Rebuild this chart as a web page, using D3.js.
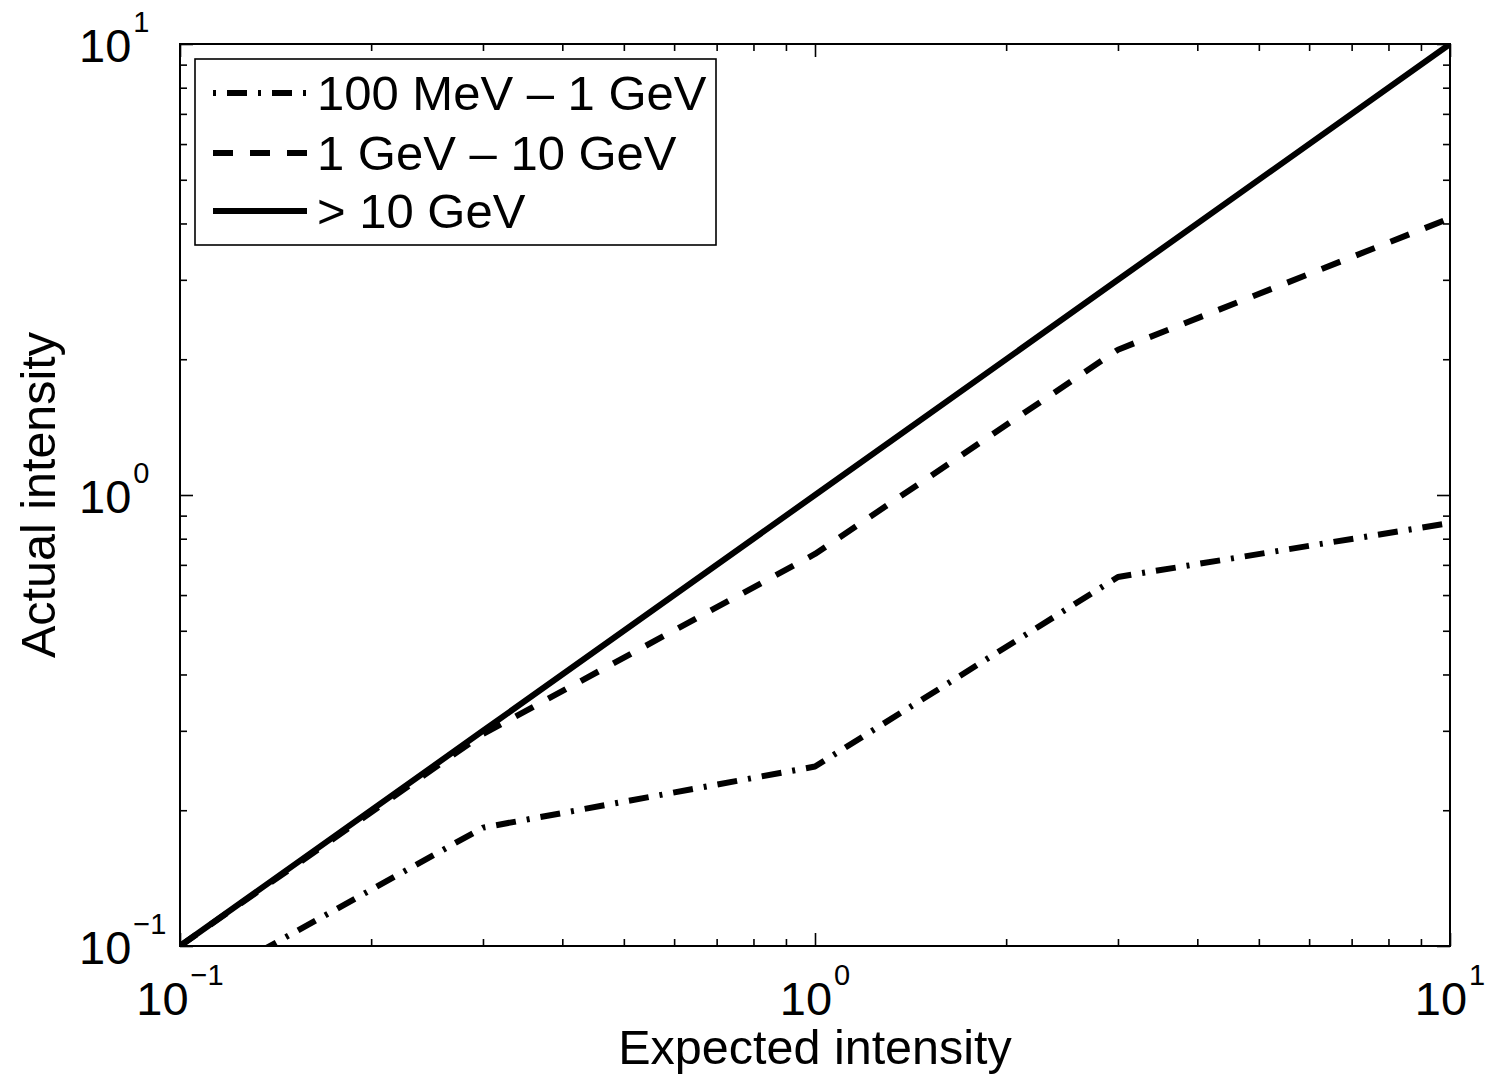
<!DOCTYPE html>
<html>
<head>
<meta charset="utf-8">
<script src="https://cdn.jsdelivr.net/npm/d3@7"></script>
<style>
  html, body { margin: 0; padding: 0; background: #fff; }
  svg { display: block; }
  text { font-family: "Liberation Sans", Arial, Helvetica, sans-serif; fill: #000; }
</style>
</head>
<body>
<svg id="chart" width="1486" height="1076"></svg>
<script>
// ---- data ----
const expected = [0.1, 0.3, 1, 3, 10];
const band100MeV = [0.0775, 0.183, 0.25, 0.658, 0.867];
const band1GeV = [0.1, 0.295, 0.74, 2.1, 4.11];
const band10GeV = [0.1, 0.3, 1, 3, 10];
const seriesNames = ["100 MeV \u2013 1 GeV", "1 GeV \u2013 10 GeV", "> 10 GeV"];
const majorTicks = [0.1, 1, 10];
const majorExponents = ["\u22121", "0", "1"];
const xTitle = "Expected intensity";
const yTitle = "Actual intensity";

// ---- layout ----
const L = 180, T = 44, R = 1450, B = 946;
const svg = d3.select("#chart");

const x = d3.scaleLog().domain([0.1, 10]).range([L, R]);
const y = d3.scaleLog().domain([0.1, 10]).range([B, T]);

const minorTicks = [];
[0.1, 1].forEach(d => { for (let k = 2; k <= 9; k++) minorTicks.push(+(d * k).toFixed(3)); });

const majorLen = 13, minorLen = 7;

// clip
svg.append("defs").append("clipPath").attr("id", "plotclip")
  .append("rect").attr("x", L).attr("y", T).attr("width", R - L).attr("height", B - T);

// ---- ticks via d3 axes (inward) ----
function addAxis(gen, transform, ticks, len) {
  const g = svg.append("g").attr("transform", transform)
    .call(gen.tickValues(ticks).tickSizeInner(-len).tickSizeOuter(0).tickFormat(""));
  g.select(".domain").remove();
  g.selectAll(".tick line").attr("stroke", "#000").attr("stroke-width", 1.6);
  return g;
}
[[majorTicks, majorLen], [minorTicks, minorLen]].forEach(([ticks, len]) => {
  addAxis(d3.axisBottom(x), `translate(0,${B})`, ticks, len);
  addAxis(d3.axisTop(x), `translate(0,${T})`, ticks, len);
  addAxis(d3.axisLeft(y), `translate(${L},0)`, ticks, len);
  addAxis(d3.axisRight(y), `translate(${R},0)`, ticks, len);
});

// ---- data lines ----
const lineGen = vals => d3.line().x((d, i) => x(expected[i])).y((d) => y(d))(vals);
const styles = [
  { dash: "20,11,3,11", width: 6 },
  { dash: "20,17", width: 6 },
  { dash: null, width: 6 }
];
const allSeries = [band100MeV, band1GeV, band10GeV];
const gLines = svg.append("g").attr("clip-path", "url(#plotclip)");
allSeries.forEach((vals, i) => {
  const p = gLines.append("path")
    .attr("d", lineGen(vals))
    .attr("fill", "none")
    .attr("stroke", "#000")
    .attr("stroke-width", styles[i].width)
    .attr("stroke-linejoin", "round");
  if (styles[i].dash) p.attr("stroke-dasharray", styles[i].dash);
});

// ---- frame ----
svg.append("rect").attr("x", L).attr("y", T).attr("width", R - L).attr("height", B - T)
  .attr("fill", "none").attr("stroke", "#000").attr("stroke-width", 2);

// ---- tick labels ----
majorTicks.forEach((t, i) => {
  const tx = svg.append("text").attr("x", x(t)).attr("y", B + 69)
    .attr("text-anchor", "middle").attr("font-size", 47);
  tx.append("tspan").text("10");
  tx.append("tspan").attr("font-size", 29).attr("dy", -30).attr("dx", 2).text(majorExponents[i]);

  const ty = svg.append("text").attr("x", 79).attr("y", y(t) + 18)
    .attr("text-anchor", "start").attr("font-size", 47);
  ty.append("tspan").text("10");
  ty.append("tspan").attr("font-size", 29).attr("dy", -30).attr("dx", 2).text(majorExponents[i]);
});

// ---- axis titles ----
svg.append("text").attr("x", (L + R) / 2).attr("y", 1064)
  .attr("text-anchor", "middle").attr("font-size", 48.5).text(xTitle);
svg.append("text").attr("transform", `translate(55,${(T + B) / 2}) rotate(-90)`)
  .attr("text-anchor", "middle").attr("font-size", 48.5).text(yTitle);

// ---- legend ----
const lg = svg.append("g");
lg.append("rect").attr("x", 195).attr("y", 59).attr("width", 521).attr("height", 186)
  .attr("fill", "#fff").attr("stroke", "#000").attr("stroke-width", 1.6);
const rowY = [93, 153, 211];
seriesNames.forEach((name, i) => {
  const ln = lg.append("line").attr("x1", 213).attr("x2", 307)
    .attr("y1", rowY[i]).attr("y2", rowY[i])
    .attr("stroke", "#000").attr("stroke-width", styles[i].width);
  if (styles[i].dash) ln.attr("stroke-dasharray", styles[i].dash);
  if (i === 0) ln.attr("stroke-dashoffset", 31);
  lg.append("text").attr("x", 317).attr("y", rowY[i] + 17)
    .attr("font-size", 49).text(name);
});
</script>
</body>
</html>
